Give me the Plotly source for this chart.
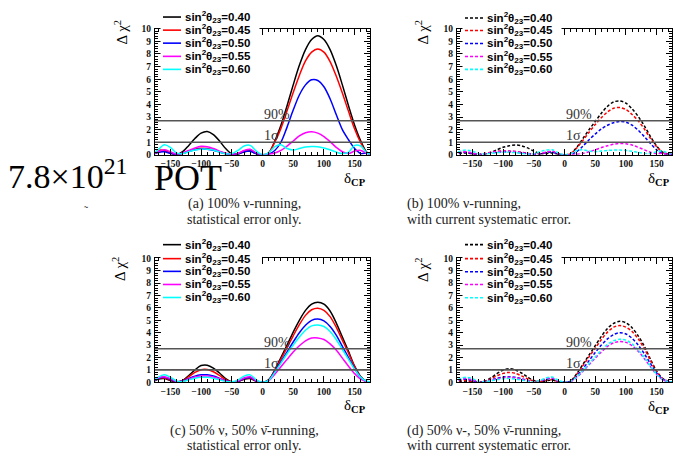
import plotly.graph_objects as go

W, H = 673, 459

# ---------------------------------------------------------------- data
delta_cp = list(range(-180, 181, 10))
sin2_theta23 = ["0.40", "0.45", "0.50", "0.55", "0.60"]
curve_colors = ["#000000", "#ff0000", "#0000ff", "#ff00ff", "#00ffff"]
cl_levels = [2.71, 1.0]
cl_labels = ["90%", "1σ"]
x_tick_vals = [-150, -100, -50, 0, 50, 100, 150]

# (a) 100% nu-running, statistical error only
nu100_stat_040 = [0, 0.2, 0.32, 0.15, 0.02, 0.25, 0.75, 1.3, 1.72, 1.85, 1.6, 1.1, 0.5, 0.08, 0.05, 0.25, 0.3, 0.08, 0,
                  0.15, 1.1, 2.35, 3.9, 5.55, 7.1, 8.35, 9.15, 9.45, 9.15, 8.35, 7.1, 5.55, 3.9, 2.35, 1.1, 0.2, 0]
nu100_stat_045 = [0, 0.35, 0.35, 0.15, 0.05, 0.12, 0.3, 0.45, 0.52, 0.5, 0.4, 0.25, 0.1, 0.05, 0.1, 0.3, 0.4, 0.1, 0,
                  0.15, 1.0, 2.1, 3.5, 4.95, 6.3, 7.45, 8.15, 8.4, 8.15, 7.4, 6.25, 4.9, 3.45, 2.05, 0.95, 0.15, 0]
nu100_stat_050 = [0, 0.2, 0.25, 0.12, 0.03, 0.12, 0.28, 0.4, 0.47, 0.45, 0.37, 0.22, 0.08, 0.03, 0.08, 0.25, 0.3, 0.08, 0,
                  0.05, 0.35, 1.0, 2.2, 3.55, 4.75, 5.55, 5.95, 5.9, 5.4, 4.45, 3.2, 2.0, 1.2, 0.5, 0.1, 0.15, 0]
nu100_stat_055 = [0, 0.25, 0.4, 0.25, 0.05, 0.15, 0.35, 0.55, 0.68, 0.65, 0.5, 0.3, 0.12, 0.05, 0.1, 0.35, 0.45, 0.15, 0,
                  0.05, 0.15, 0.35, 0.7, 1.1, 1.5, 1.75, 1.83, 1.72, 1.45, 1.05, 0.6, 0.25, 0.1, 0.3, 0.35, 0.1, 0]
nu100_stat_060 = [0, 0.4, 0.8, 0.6, 0.15, 0.1, 0.25, 0.38, 0.45, 0.45, 0.38, 0.22, 0.08, 0.1, 0.35, 0.7, 0.75, 0.3, 0,
                  0.15, 0.65, 0.8, 0.5, 0.38, 0.5, 0.62, 0.67, 0.65, 0.55, 0.4, 0.22, 0.1, 0.2, 0.75, 0.7, 0.15, 0]

# (b) 100% nu-running, with current systematic error
nu100_syst_040 = [0, 0.1, 0.15, 0.08, 0.02, 0.05, 0.2, 0.4, 0.6, 0.72, 0.78, 0.72, 0.55, 0.3, 0.1, 0.1, 0.15, 0.05, 0,
                  0.1, 0.6, 1.3, 2.0, 2.65, 3.3, 3.85, 4.2, 4.27, 4.1, 3.65, 3.05, 2.3, 1.45, 0.7, 0.2, 0.05, 0]
nu100_syst_045 = [0, 0.2, 0.2, 0.1, 0.05, 0.1, 0.2, 0.28, 0.3, 0.3, 0.27, 0.2, 0.12, 0.06, 0.08, 0.2, 0.25, 0.08, 0,
                  0.1, 0.55, 1.15, 1.8, 2.4, 2.95, 3.4, 3.7, 3.75, 3.6, 3.2, 2.7, 2.05, 1.3, 0.65, 0.2, 0.05, 0]
nu100_syst_050 = [0, 0.15, 0.2, 0.1, 0.03, 0.08, 0.16, 0.22, 0.25, 0.25, 0.22, 0.16, 0.1, 0.05, 0.08, 0.18, 0.22, 0.06, 0,
                  0.02, 0.25, 0.7, 1.2, 1.65, 2.05, 2.35, 2.55, 2.65, 2.6, 2.35, 1.95, 1.45, 0.9, 0.4, 0.1, 0.05, 0]
nu100_syst_055 = [0, 0.2, 0.25, 0.15, 0.04, 0.08, 0.18, 0.26, 0.3, 0.3, 0.26, 0.18, 0.1, 0.05, 0.1, 0.22, 0.28, 0.08, 0,
                  0.02, 0.05, 0.12, 0.25, 0.4, 0.58, 0.73, 0.84, 0.9, 0.88, 0.78, 0.6, 0.4, 0.2, 0.1, 0.12, 0.05, 0]
nu100_syst_060 = [0, 0.3, 0.38, 0.3, 0.1, 0.06, 0.12, 0.18, 0.2, 0.2, 0.18, 0.12, 0.06, 0.08, 0.25, 0.38, 0.4, 0.15, 0,
                  0.1, 0.35, 0.4, 0.3, 0.25, 0.3, 0.35, 0.38, 0.38, 0.35, 0.28, 0.2, 0.12, 0.1, 0.25, 0.3, 0.1, 0]

# (c) 50% nu, 50% anti-nu running, statistical error only
nu50_stat_040 = [0, 0.25, 0.3, 0.15, 0.02, 0.15, 0.55, 1.0, 1.35, 1.38, 1.15, 0.75, 0.3, 0.03, 0.05, 0.25, 0.3, 0.08, 0,
                 0.2, 1.0, 2.0, 3.0, 4.05, 5.0, 5.8, 6.3, 6.45, 6.3, 5.75, 4.8, 3.65, 2.5, 1.3, 0.45, 0.05, 0]
nu50_stat_045 = [0, 0.3, 0.35, 0.2, 0.04, 0.12, 0.45, 0.8, 1.02, 1.03, 0.85, 0.55, 0.22, 0.03, 0.06, 0.28, 0.35, 0.1, 0,
                 0.18, 0.95, 1.85, 2.8, 3.75, 4.65, 5.4, 5.85, 5.97, 5.8, 5.3, 4.45, 3.4, 2.35, 1.25, 0.42, 0.05, 0]
nu50_stat_050 = [0, 0.3, 0.4, 0.25, 0.05, 0.1, 0.3, 0.5, 0.6, 0.6, 0.5, 0.32, 0.13, 0.03, 0.08, 0.3, 0.38, 0.1, 0,
                 0.15, 0.85, 1.65, 2.45, 3.25, 4.0, 4.6, 5.0, 5.1, 4.95, 4.5, 3.8, 2.9, 2.0, 1.1, 0.38, 0.05, 0]
nu50_stat_055 = [0, 0.35, 0.45, 0.3, 0.06, 0.08, 0.25, 0.42, 0.5, 0.5, 0.42, 0.28, 0.1, 0.03, 0.1, 0.35, 0.45, 0.12, 0,
                 0.12, 0.65, 1.25, 1.85, 2.45, 2.95, 3.35, 3.57, 3.58, 3.45, 3.1, 2.6, 1.95, 1.3, 0.7, 0.25, 0.05, 0]
nu50_stat_060 = [0, 0.4, 0.6, 0.42, 0.1, 0.06, 0.2, 0.33, 0.4, 0.4, 0.33, 0.2, 0.07, 0.05, 0.18, 0.5, 0.6, 0.2, 0,
                 0.15, 0.8, 1.55, 2.3, 3.0, 3.65, 4.2, 4.55, 4.63, 4.5, 4.1, 3.45, 2.65, 1.85, 1.05, 0.4, 0.08, 0]

# (d) 50% nu, 50% anti-nu running, with current systematic error
nu50_syst_040 = [0, 0.05, 0.1, 0.05, 0.02, 0.1, 0.35, 0.7, 0.98, 1.1, 1.0, 0.75, 0.42, 0.15, 0.05, 0.12, 0.18, 0.05, 0,
                 0.1, 0.7, 1.45, 2.2, 2.95, 3.7, 4.35, 4.75, 4.92, 4.8, 4.4, 3.75, 2.9, 1.85, 0.9, 0.3, 0.05, 0]
nu50_syst_045 = [0, 0.1, 0.15, 0.08, 0.03, 0.08, 0.28, 0.52, 0.72, 0.8, 0.72, 0.52, 0.28, 0.1, 0.06, 0.15, 0.2, 0.06, 0,
                 0.1, 0.65, 1.35, 2.05, 2.75, 3.45, 4.05, 4.45, 4.58, 4.45, 4.1, 3.5, 2.7, 1.75, 0.85, 0.28, 0.05, 0]
nu50_syst_050 = [0, 0.2, 0.25, 0.15, 0.04, 0.06, 0.18, 0.32, 0.42, 0.45, 0.4, 0.28, 0.14, 0.05, 0.08, 0.25, 0.3, 0.08, 0,
                 0.08, 0.5, 1.1, 1.75, 2.4, 3.0, 3.5, 3.85, 4.0, 3.9, 3.55, 3.0, 2.3, 1.5, 0.75, 0.25, 0.05, 0]
nu50_syst_055 = [0, 0.25, 0.3, 0.2, 0.05, 0.05, 0.15, 0.28, 0.37, 0.4, 0.35, 0.25, 0.12, 0.05, 0.1, 0.3, 0.35, 0.1, 0,
                 0.06, 0.4, 0.9, 1.42, 1.95, 2.45, 2.9, 3.18, 3.29, 3.22, 2.95, 2.5, 1.9, 1.25, 0.62, 0.2, 0.05, 0]
nu50_syst_060 = [0, 0.3, 0.4, 0.3, 0.08, 0.05, 0.12, 0.22, 0.28, 0.3, 0.27, 0.18, 0.08, 0.05, 0.15, 0.35, 0.42, 0.15, 0,
                 0.08, 0.45, 0.95, 1.5, 2.05, 2.6, 3.05, 3.35, 3.47, 3.4, 3.1, 2.6, 2.0, 1.3, 0.65, 0.22, 0.05, 0]

caption_a = ["(a) 100% ν-running,", "statistical error only."]
caption_b = ["(b) 100% ν-running,", "with current systematic error."]
caption_c = ["(c) 50% ν, 50% ν̄-running,", "statistical error only."]
caption_d = ["(d) 50% ν-, 50% ν̄-running,", "with current systematic error."]
exposure_value = "7.8×10<sup>21</sup>"
exposure_unit = "POT"

# ---------------------------------------------------------------- layout helpers
def px(x):
    return x / W


def py(y):
    return 1 - y / H


SERIF = "Liberation Serif"
SANS = "Liberation Sans"

panels = [
    # frame (left, right, top, bottom) in pixels, curves, dashed?, legend geometry
    dict(frame=(155, 370, 24.3, 153.2), curves=[nu100_stat_040, nu100_stat_045, nu100_stat_050, nu100_stat_055, nu100_stat_060],
         dashed=False, leg_x=163, leg_y=[12.3, 25.7, 39.0, 52.5, 65.8], box=(160.5, 259.5, 0, 73),
         ytitle=(121, 28), xtitle=(368, 178)),
    dict(frame=(457, 672, 24.3, 153.2), curves=[nu100_syst_040, nu100_syst_045, nu100_syst_050, nu100_syst_055, nu100_syst_060],
         dashed=True, leg_x=465, leg_y=[13.3, 26.0, 39.3, 52.7, 65.8], box=(462.5, 561.5, 0, 73),
         ytitle=(422, 28), xtitle=(672, 178)),
    dict(frame=(155, 370, 259.0, 385.7), curves=[nu50_stat_040, nu50_stat_045, nu50_stat_050, nu50_stat_055, nu50_stat_060],
         dashed=False, leg_x=163, leg_y=[245.0, 259.3, 272.3, 285.7, 299.0], box=(160.5, 262, 230, 306),
         ytitle=(119, 270), xtitle=(368, 410)),
    dict(frame=(457, 672, 259.0, 385.7), curves=[nu50_syst_040, nu50_syst_045, nu50_syst_050, nu50_syst_055, nu50_syst_060],
         dashed=True, leg_x=465, leg_y=[245.0, 259.3, 272.7, 285.7, 299.3], box=(462.5, 561.5, 230, 307),
         ytitle=(422, 271), xtitle=(672, 411)),
]

DASH = "3px,2px"

fig = go.Figure()
shapes = []
annotations = []
layout_axes = {}

for i, p in enumerate(panels):
    n = "" if i == 0 else str(i + 1)
    xa, ya = "x" + n, "y" + n
    left, right, top, bottom = p["frame"]

    for vals, col, lab in zip(p["curves"], curve_colors, sin2_theta23):
        fig.add_trace(go.Scatter(
            x=delta_cp, y=vals, xaxis=xa, yaxis=ya, mode="lines",
            line=dict(color=col, width=1.5, shape="spline", smoothing=0.9,
                      dash=DASH if p["dashed"] else "solid"),
            name=lab, showlegend=False, hoverinfo="skip"))

    tickfont = dict(family=SERIF, size=9.5, color="#111", weight="bold")
    layout_axes["xaxis" + n] = dict(
        domain=[px(left), px(right)], anchor=ya, range=[-175, 175],
        tickvals=x_tick_vals, ticks="inside", ticklen=6, tickcolor="#000",
        showline=True, linecolor="#000", linewidth=1, mirror="ticks",
        showgrid=False, zeroline=False, tickfont=tickfont,
        minor=dict(dtick=10, ticks="inside", ticklen=3, tickcolor="#000"))
    layout_axes["yaxis" + n] = dict(
        domain=[py(bottom), py(top)], anchor=xa, range=[0, 10],
        dtick=1, ticks="inside", ticklen=6, tickcolor="#000",
        showline=True, linecolor="#000", linewidth=1, mirror="ticks",
        showgrid=False, zeroline=False, tickfont=tickfont, ticklabelstandoff=1,
        minor=dict(dtick=0.2, ticks="inside", ticklen=3, tickcolor="#000"))

    # confidence-level reference lines with their labels
    for lvl, txt in zip(cl_levels, cl_labels):
        shapes.append(dict(type="line", xref=xa + " domain", yref=ya, x0=0, x1=1,
                           y0=lvl, y1=lvl, line=dict(color="#555", width=1.6), layer="above"))
        annotations.append(dict(xref=xa, yref=ya, x=0, y=lvl, xanchor="left", yanchor="bottom",
                                text=txt, showarrow=False, yshift=-3, xshift=-1,
                                font=dict(family=SERIF, size=14, color="#333")))

    # legend panel (white box over the upper-left corner of the frame)
    bx0, bx1, by0, by1 = p["box"]
    shapes.append(dict(type="rect", xref="paper", yref="paper", x0=px(bx0), x1=px(bx1),
                       y0=py(by1), y1=py(by0), fillcolor="#fff", line=dict(width=0), layer="above"))
    for ly, col, lab in zip(p["leg_y"], curve_colors, sin2_theta23):
        shapes.append(dict(type="line", xref="paper", yref="paper",
                           x0=px(p["leg_x"]), x1=px(p["leg_x"] + 18), y0=py(ly), y1=py(ly),
                           line=dict(color=col, width=1.6, dash=DASH if p["dashed"] else "solid"),
                           layer="above"))
        annotations.append(dict(xref="paper", yref="paper", x=px(p["leg_x"] + 20), y=py(ly),
                                xanchor="left", yanchor="middle", showarrow=False,
                                text="<b>sin<sup>2</sup>θ<sub>23</sub>=" + lab + "</b>",
                                font=dict(family=SANS, size=11.5, color="#000")))

    # axis titles
    tx, ty = p["ytitle"]
    annotations.append(dict(xref="paper", yref="paper", x=px(tx), y=py(ty), xanchor="center",
                            yanchor="middle", textangle=-90, showarrow=False,
                            text="Δ χ<sup>2</sup>", font=dict(family=SERIF, size=15, color="#000")))
    tx, ty = p["xtitle"]
    annotations.append(dict(xref="paper", yref="paper", x=px(tx), y=py(ty), xanchor="right",
                            yanchor="middle", showarrow=False,
                            text="δ<sub><b>CP</b></sub>", font=dict(family=SERIF, size=15, color="#000")))

# sub-figure captions, one annotation per line
for lines, x, anchor, ys in [(caption_a, 244, "center", (203, 219)), (caption_b, 405, "left", (203, 219)),
                             (caption_c, 244, "center", (435, 450)), (caption_d, 405, "left", (435, 450))]:
    for txt, y in zip(lines, ys):
        annotations.append(dict(xref="paper", yref="paper", x=px(x), y=py(y), xanchor=anchor,
                                yanchor="middle", showarrow=False, text=txt,
                                font=dict(family=SERIF, size=14, color="#222")))

# exposure label
annotations.append(dict(xref="paper", yref="paper", x=px(6), y=py(173), xanchor="left",
                        yanchor="middle", showarrow=False, text=exposure_value,
                        font=dict(family=SERIF, size=34, color="#000")))
annotations.append(dict(xref="paper", yref="paper", x=px(152), y=py(176.5), xanchor="left",
                        yanchor="middle", showarrow=False, text=exposure_unit,
                        font=dict(family=SERIF, size=36, color="#000")))
annotations.append(dict(xref="paper", yref="paper", x=px(86), y=py(211), xanchor="center",
                        yanchor="middle", showarrow=False, text="˜",
                        font=dict(family=SERIF, size=12, color="#444")))

fig.update_layout(
    width=W, height=H, margin=dict(l=0, r=0, t=0, b=0),
    paper_bgcolor="#fff", plot_bgcolor="#fff", showlegend=False,
    shapes=shapes, annotations=annotations, **layout_axes)

fig.write_html("out.html")
